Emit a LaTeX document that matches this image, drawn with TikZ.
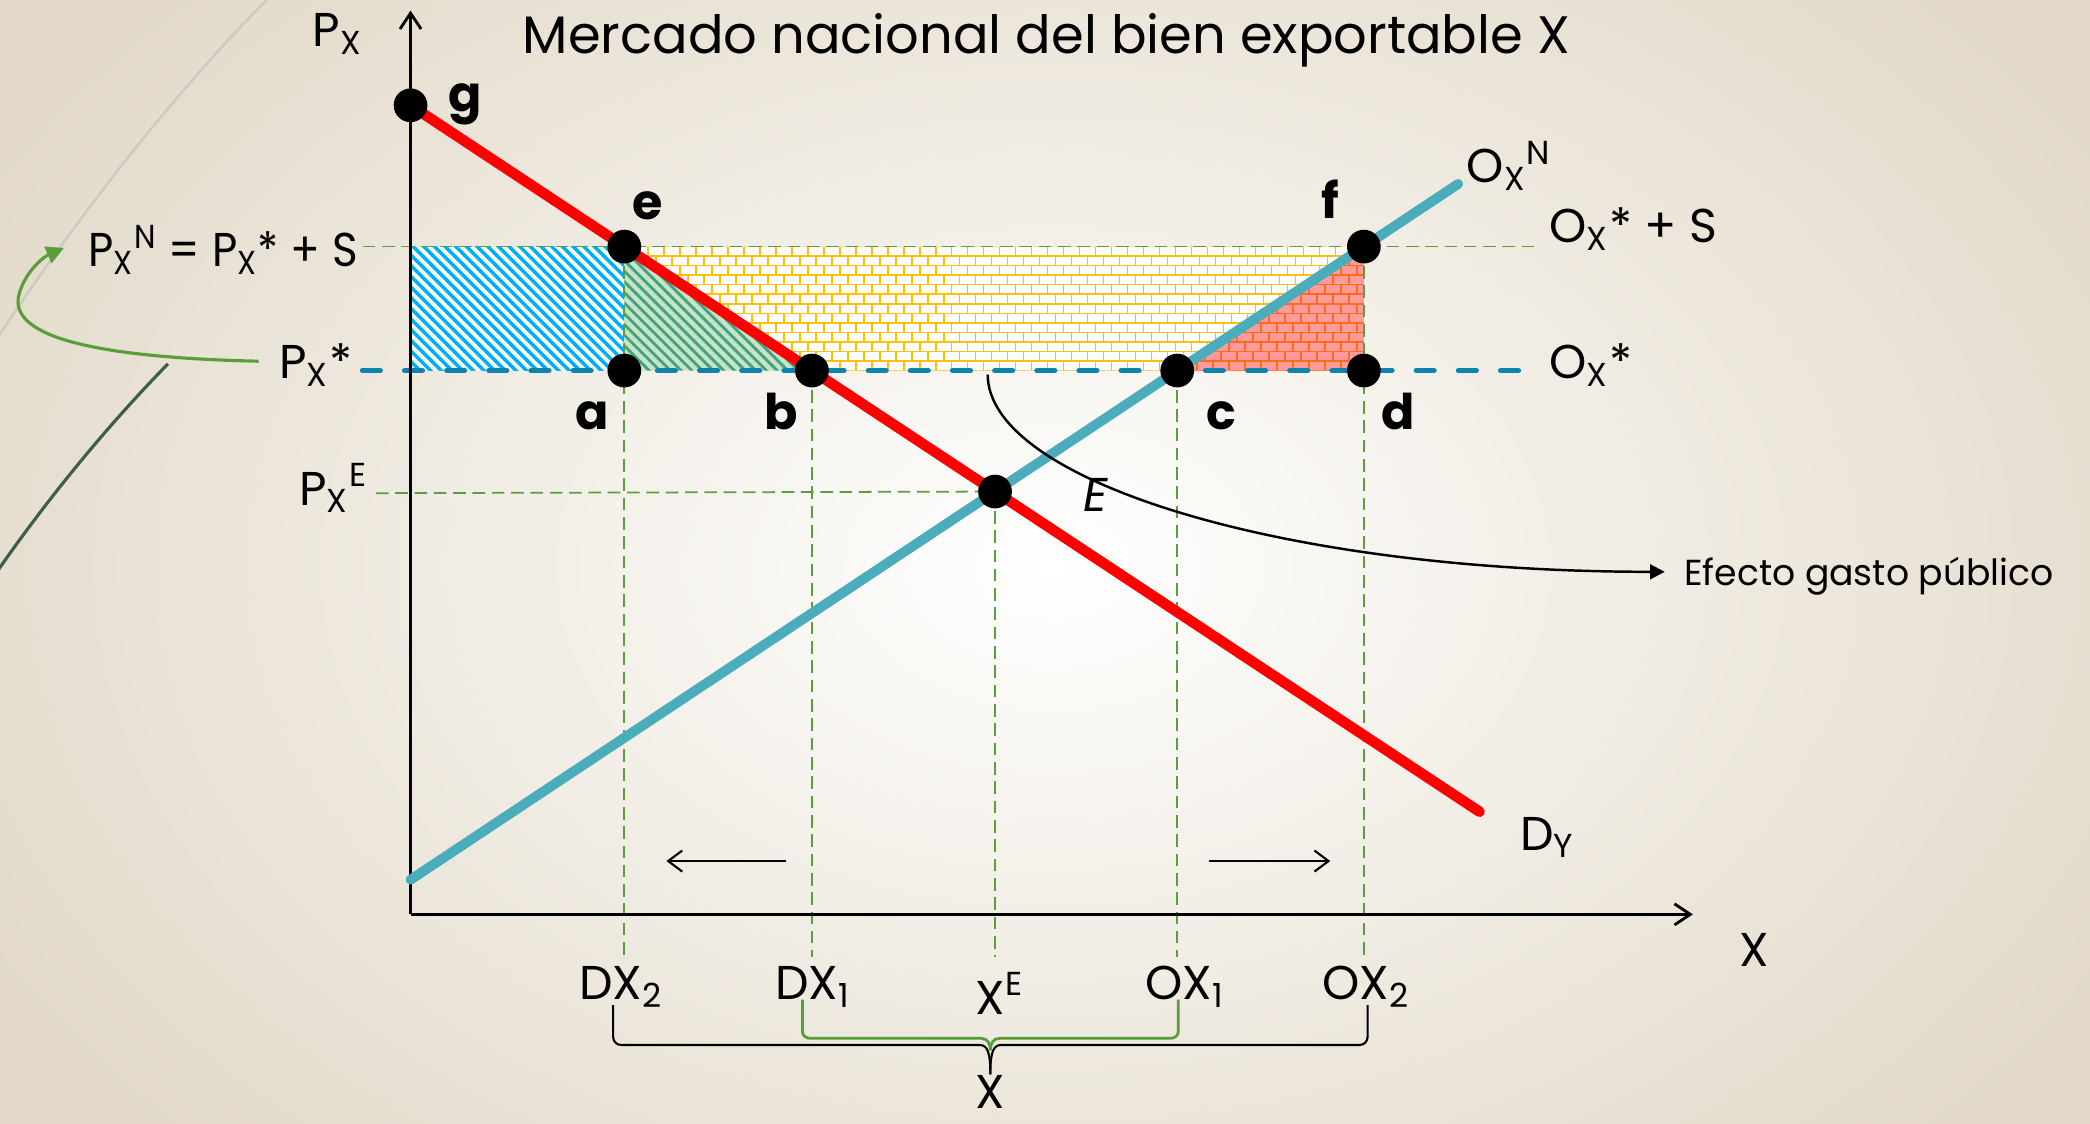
\documentclass[tikz,border=0pt]{standalone}
\usepackage{fontspec}
\usepackage{graphicx}
\setmainfont{Poppins}
\usetikzlibrary{arrows.meta,intersections,calc}

\definecolor{bgc}{HTML}{E2D9C8}
\definecolor{redc}{HTML}{FF0000}
\definecolor{tealc}{HTML}{4BADBB}
\definecolor{gdash}{HTML}{5C9E3C}
\definecolor{bdash}{HTML}{0E83AC}
\definecolor{hcyan}{HTML}{00B0F0}
\definecolor{tgreen}{HTML}{C9E4BE}
\definecolor{tstripe}{HTML}{3FA28E}
\definecolor{byel}{HTML}{FFC000}
\definecolor{pinkf}{HTML}{FF9B9B}
\definecolor{borng}{HTML}{FF6A1F}
\definecolor{arcgray}{HTML}{C9CCC0}
\definecolor{arcgreen}{HTML}{3E5E48}
\definecolor{arrgreen}{HTML}{5A9E3A}

\newcommand{\fsz}[1]{\fontsize{#1}{#1}\selectfont}

\begin{document}
\begin{tikzpicture}[x=0.013329cm,y=-0.013329cm,
  redline/.style={line width=3pt, draw=redc, line cap=round},
  tealline/.style={line width=2.8pt, draw=tealc, line cap=round},
  guide/.style={draw=gdash, line width=0.5pt, dash pattern=on 3.6pt off 1.9pt},
  bluedash/.style={draw=bdash, line width=1.6pt, line cap=round, dash pattern=on 5pt off 7pt},
  dot/.style={circle, fill=black, inner sep=0pt, minimum size=9.6pt},
  ptlab/.style={inner sep=0pt, font=\fsz{14}\bfseries},
  lab/.style={inner sep=0pt, font=\fsz{13.5}},
  axisline/.style={line width=0.8pt, -{Straight Barb[length=4.5pt,width=6pt]}},
  smallarrow/.style={line width=0.6pt, -{Straight Barb[length=4pt,width=6pt]}},
  hatchc/.style={draw=hcyan, line width=1pt},
  hatcht/.style={draw=tstripe, line width=0.8pt},
  brickY/.style={draw=byel, line width=0.45pt},
  brickO/.style={draw=borng, line width=0.45pt},
  brace/.style={line width=0.6pt}
]
\useasboundingbox (0,0) rectangle (1568,843);
\begin{scope}
\clip (0,0) rectangle (1568,843);
\shade[inner color=white, outer color=bgc] (-120,-200) rectangle (1700,1050);
\draw[arcgray, line width=0.7pt] (205,-5) .. controls (130,70) and (60,160) .. (-5,258);
\draw[arcgreen, line width=0.9pt] (126,273) .. controls (80,320) and (35,375) .. (-3,430);
\end{scope}

% key coordinates
\coordinate (O) at (308,686);
\coordinate (ytop) at (308,8);
\coordinate (xend) at (1270,686);
\coordinate (g0) at (308,79);
\coordinate (dend) at (1110,609);
\coordinate (s0) at (308,660);
\coordinate (s1) at (1094,138);
\coordinate (bot) at (0,718);
\path[name path=redp] (g0) -- (dend);
\path[name path=tealp] (s0) -- (s1);
\path[name path=hN] (300,185) -- (1200,185);
\path[name path=hS] (300,278) -- (1200,278);
\path[name intersections={of=redp and hN, by=pe}];
\path[name intersections={of=redp and hS, by=pb}];
\path[name intersections={of=tealp and hS, by=pc}];
\path[name intersections={of=tealp and hN, by=pf}];
\path[name intersections={of=redp and tealp, by=pE}];
\coordinate (pa) at (pe |- pb);
\coordinate (pd) at (pf |- pb);

% blue hatched rectangle
\fill[white] (308,185) rectangle (pa);
\begin{scope}
\clip (308,185) rectangle (pa);
\foreach \i in {-104,-96,...,170} { \draw[hatchc] (308+\i,183) -- ++(100,100); }
\end{scope}
% green triangle
\fill[tgreen] (pe) -- (pa) -- (pb) -- cycle;
\begin{scope}
\clip (pe) -- (pa) -- (pb) -- cycle;
\foreach \i in {-100,-92,...,160} { \draw[hatcht] (460+\i,183) -- ++(100,100); }
\end{scope}
% yellow bricks
\fill[white] (pe) -- (pf) -- (pc) -- (pb) -- cycle;
\begin{scope}
\clip (pe) -- (pf) -- (pc) -- (pb) -- cycle;
\foreach \r in {0,...,13} {
  \pgfmathsetmacro\yy{185+\r*7.15}
  \pgfmathsetmacro\off{mod(\r,2)*6}
  \draw[brickY] (450,\yy) -- (1050,\yy);
  \foreach \k in {0,...,50} { \draw[brickY] (450+\off+\k*12,\yy) -- ++(0,7.15); }
}
\end{scope}
% pink bricks
\fill[pinkf] (pc) -- (pf) -- (pd) -- cycle;
\begin{scope}
\clip (pc) -- (pf) -- (pd) -- cycle;
\foreach \r in {0,...,13} {
  \pgfmathsetmacro\yy{185+\r*7.15}
  \pgfmathsetmacro\off{mod(\r,2)*6}
  \draw[brickO] (850,\yy) -- (1050,\yy);
  \foreach \k in {0,...,18} { \draw[brickO] (850+\off+\k*12,\yy) -- ++(0,7.15); }
}
\end{scope}

% guides
\coordinate (hNl) at (272,185);
\coordinate (hNr) at (1155,185);
\coordinate (hSl) at (272,278);
\coordinate (hSr) at (1150,278);
\coordinate (hEl) at (282,370);
\draw[guide] (hNl) -- (hNr);
\draw[guide] (hEl) -- (pE);
\draw[guide] (pe) -- (pe |- bot);
\draw[guide] (pb) -- (pb |- bot);
\draw[guide] (pE) -- (pE |- bot);
\draw[guide] (pc) -- (pc |- bot);
\draw[guide] (pf) -- (pf |- bot);
\draw[bluedash] (hSl) -- (hSr);

% axes
\draw[axisline] (O) -- (ytop);
\draw[axisline] (O) -- (xend);

% curves
\draw[redline] (g0) -- (dend);
\draw[tealline] (s0) -- (s1);

% efecto curve
\coordinate (efs) at (741,281);
\coordinate (efe) at (1249,429);
\draw[line width=0.7pt, -{Triangle[length=4.2pt,width=4.2pt]}] (efs) .. controls (741,360) and (960,429) .. (efe);

% green curved arrow
\coordinate (gas) at (194,271);
\coordinate (gae) at (48,186);
\draw[arrgreen, line width=0.9pt, -{Triangle[length=5pt,width=5pt]}] (gas) .. controls (60,268) and (8,250) .. (14,222) .. controls (18,205) and (32,193) .. (gae);

% small arrows
\coordinate (la1) at (590,646);
\coordinate (la2) at (500,646);
\coordinate (ra1) at (907,646);
\coordinate (ra2) at (998,646);
\draw[smallarrow] (la1) -- (la2);
\draw[smallarrow] (ra1) -- (ra2);

% dots
\node[dot] (g) at (g0) {};
\node[dot] (e) at (pe) {};
\node[dot] (f) at (pf) {};
\node[dot] (a) at (pa) {};
\node[dot] (b) at (pb) {};
\node[dot] (c) at (pc) {};
\node[dot] (d) at (pd) {};
\node[dot] (E) at (pE) {};

% point labels
\node[ptlab, anchor=base] (lg) at (349,84) {g};
\node[ptlab, anchor=base] (le) at (486,165) {e};
\node[ptlab, anchor=base] (lf) at (998,164) {f};
\node[ptlab, anchor=base] (la) at (444,322) {a};
\node[ptlab, anchor=base] (lb) at (586,322) {b};
\node[ptlab, anchor=base] (lc) at (916,322) {c};
\node[ptlab, anchor=base] (ld) at (1049,322) {d};
\node[lab, anchor=base, font=\fsz{13.5}\itshape] (lE) at (822,384) {E};

% text labels
\node[inner sep=0pt, anchor=base, font=\fsz{15}] (title) at (785,40) {Mercado nacional del bien exportable X};
\node[lab, anchor=base west] (lpx) at (234,35) {P\textsubscript{X}};
\node[lab, anchor=base east] (lpxn) at (269,200) {\scalebox{0.92}[1]{P\textsubscript{X}\textsuperscript{N} = P\textsubscript{X}* + S}};
\node[lab, anchor=base west] (lpxs) at (209,284) {P\textsubscript{X}*};
\node[lab, anchor=base west] (lpxe) at (224,379) {P\textsubscript{X}\textsuperscript{E}};
\node[lab, anchor=base west] (loxn) at (1100,137) {O\textsubscript{X}\textsuperscript{N}};
\node[lab, anchor=base west] (loxs) at (1162,182) {O\textsubscript{X}* + S};
\node[lab, anchor=base west] (lox) at (1162,284) {O\textsubscript{X}*};
\node[lab, anchor=base west] (ldy) at (1140,638) {D\textsubscript{Y}};
\node[lab, anchor=base] (lx) at (1316,725) {X};
\node[inner sep=0pt, anchor=base west, font=\fsz{10.3}] (lef) at (1263,439) {Efecto gasto público};

\node[lab, anchor=base] (dx2) at (466,750) {DX\textsubscript{2}};
\node[lab, anchor=base] (dx1) at (610,750) {DX\textsubscript{1}};
\node[lab, anchor=base] (xe) at (750,761) {X\textsuperscript{E}};
\node[lab, anchor=base] (ox1) at (889,750) {OX\textsubscript{1}};
\node[lab, anchor=base] (ox2) at (1025,750) {OX\textsubscript{2}};
\node[lab, anchor=base] (xsum) at (743,832) {X};

% braces
\draw[brace] (460,754) -- (460,778) to[out=-90,in=180] (466,784) -- (735,784) .. controls (741,784) and (743,790) .. (743,806);
\draw[brace] (1026,754) -- (1026,778) to[out=-90,in=0] (1020,784) -- (751,784) .. controls (745,784) and (743,790) .. (743,806);
\draw[brace, arrgreen, line width=0.8pt] (602,750) -- (602,774) to[out=-90,in=180] (608,779) -- (736,779) .. controls (741,779) and (743,783) .. (743,788);
\draw[brace, arrgreen, line width=0.8pt] (884,750) -- (884,774) to[out=-90,in=0] (878,779) -- (750,779) .. controls (745,779) and (743,783) .. (743,788);
\end{tikzpicture}
\end{document}
